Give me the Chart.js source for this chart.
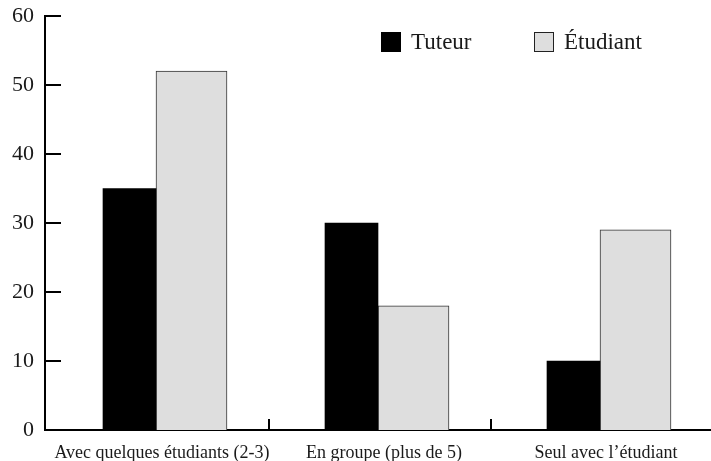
<!DOCTYPE html>
<html>
<head>
<meta charset="utf-8">
<script src="https://cdn.jsdelivr.net/npm/chart.js@4"></script>
<style>
  body { margin: 0; background: #fff; }
  #chart { display: block; }
</style>
</head>
<body>
<canvas id="chart" width="711" height="461"></canvas>
<script>
// Data
var categories = ['Avec quelques étudiants (2-3)', 'En groupe (plus de 5)', 'Seul avec l\u2019étudiant'];
var tuteurValues = [35, 30, 10];
var etudiantValues = [52, 18, 29];
var seriesNames = ['Tuteur', 'Étudiant'];
var yTicks = [0, 10, 20, 30, 40, 50, 60];

var serif = "'Liberation Serif', 'Times New Roman', serif";

// inward tick marks on both axes
var inwardTicks = {
  id: 'inwardTicks',
  afterDraw: function (chart) {
    var ctx = chart.ctx;
    var x = chart.scales.x;
    var y = chart.scales.y;
    var area = chart.chartArea;
    ctx.save();
    ctx.strokeStyle = '#000';
    ctx.lineWidth = 2;
    yTicks.forEach(function (v) {
      if (v === 0) return;
      var py = Math.round(y.getPixelForValue(v));
      ctx.beginPath();
      ctx.moveTo(area.left, py);
      ctx.lineTo(area.left + 16, py);
      ctx.stroke();
    });
    for (var i = 0; i < categories.length - 1; i++) {
      var px = Math.round((x.getPixelForValue(i) + x.getPixelForValue(i + 1)) / 2) + 2;
      ctx.beginPath();
      ctx.moveTo(px, area.bottom);
      ctx.lineTo(px, area.bottom - 11);
      ctx.stroke();
    }
    ctx.restore();
  }
};

// legend drawn inside the plot, top right
var boxLegend = {
  id: 'boxLegend',
  afterDraw: function (chart) {
    var ctx = chart.ctx;
    var starts = [381, 534];
    ctx.save();
    ctx.font = '23px ' + serif;
    ctx.textBaseline = 'middle';
    chart.data.datasets.forEach(function (ds, i) {
      var bx = starts[i];
      var by = 32;
      ctx.fillStyle = ds.backgroundColor;
      ctx.fillRect(bx, by, 20, 20);
      if (i === 1) {
        ctx.strokeStyle = '#222';
        ctx.lineWidth = 1;
        ctx.strokeRect(bx + 0.5, by + 0.5, 19, 19);
      }
      ctx.fillStyle = '#1a1a1a';
      ctx.fillText(ds.label, bx + 30, by + 11);
    });
    ctx.restore();
  }
};

var ctx = document.getElementById('chart').getContext('2d');
var chart = new Chart(ctx, {
  type: 'bar',
  data: {
    labels: categories,
    datasets: [{
      label: seriesNames[0],
      data: tuteurValues,
      backgroundColor: '#000000',
      borderWidth: 0,
      barThickness: 53
    }, {
      label: seriesNames[1],
      data: etudiantValues,
      backgroundColor: '#dedede',
      borderColor: '#333333',
      borderWidth: 1,
      barThickness: 71
    }]
  },
  options: {
    responsive: false,
    animation: false,
    layout: {
      autoPadding: false,
      padding: { top: 16, right: 0, bottom: 0, left: 0 }
    },
    plugins: {
      legend: { display: false },
      tooltip: { enabled: false }
    },
    scales: {
      x: {
        offset: true,
        afterFit: function (scale) {
          scale.height = 31;
          scale.paddingLeft = 0;
          scale.paddingRight = 0;
        },
        grid: { display: false, drawTicks: false },
        border: { display: true, color: '#000', width: 2 },
        ticks: {
          color: '#1a1a1a',
          padding: 12,
          labelOffset: 6,
          maxRotation: 0,
          font: { family: serif, size: 18 }
        }
      },
      y: {
        min: 0,
        max: 60,
        afterFit: function (scale) {
          scale.width = 45;
          scale.paddingTop = 0;
          scale.paddingBottom = 0;
        },
        afterBuildTicks: function (scale) {
          scale.ticks = yTicks.map(function (v) { return { value: v }; });
        },
        grid: { display: false, drawTicks: false },
        border: { display: true, color: '#000', width: 2 },
        ticks: {
          color: '#1a1a1a',
          padding: 11,
          font: { family: serif, size: 22 }
        }
      }
    }
  },
  plugins: [inwardTicks, boxLegend]
});
</script>
</body>
</html>
